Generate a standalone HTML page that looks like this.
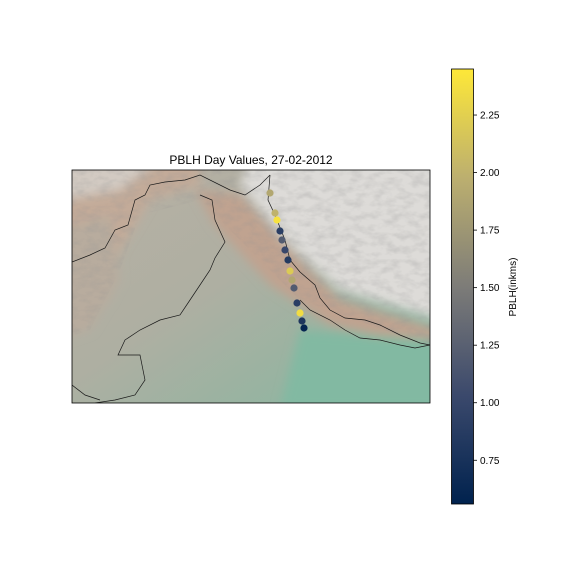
<!DOCTYPE html>
<html><head><meta charset="utf-8"><style>
html,body{margin:0;padding:0;background:#fff;}
svg text{font-family:"Liberation Sans","DejaVu Sans",sans-serif;}
</style></head><body>
<svg id="chart" width="576" height="576" viewBox="0 0 576 576">
<defs>
  <linearGradient id="cmap" x1="0" y1="1" x2="0" y2="0">
    <stop offset="0" stop-color="#00224e"/>
    <stop offset="0.25" stop-color="#3b496c"/>
    <stop offset="0.5" stop-color="#7d7c78"/>
    <stop offset="0.75" stop-color="#bcaf6f"/>
    <stop offset="1" stop-color="#fee838"/>
  </linearGradient>
  <linearGradient id="plain" x1="0" y1="0" x2="1" y2="1">
    <stop offset="0" stop-color="#b8b0a4"/>
    <stop offset="0.45" stop-color="#aeafa2"/>
    <stop offset="1" stop-color="#84b7a0"/>
  </linearGradient>
  <filter id="blur"><feGaussianBlur stdDeviation="5"/></filter>
  <filter id="tex" x="0" y="0" width="1" height="1">
    <feTurbulence type="fractalNoise" baseFrequency="0.08 0.15" numOctaves="3" seed="3"/>
    <feColorMatrix type="matrix" values="0 0 0 0 0.3  0 0 0 0 0.3  0 0 0 0 0.3  0 0 0 0.9 -0.35"/>
  </filter>
  <clipPath id="mapclip"><rect x="72" y="170" width="358" height="233"/></clipPath>
  <clipPath id="mtnclip"><polygon points="60,160 440,160 440,350 300,300 230,230 200,200 140,215 120,270 90,330 60,340"/></clipPath>
</defs>
<text x="251" y="164" text-anchor="middle" font-size="12" fill="#000">PBLH Day Values, 27-02-2012</text>
<g clip-path="url(#mapclip)">
  <rect x="72" y="170" width="358" height="233" fill="url(#plain)"/>
  <g filter="url(#blur)">
    <polygon points="60,160 200,160 200,185 150,200 120,250 110,300 60,320" fill="#c3ab99"/>
    <polygon points="60,230 110,215 120,280 90,330 60,340" fill="#b8ac9e"/>
    <polygon points="195,190 240,195 290,250 340,300 440,330 440,350 330,325 270,285 215,225" fill="#c0a390"/>
    <polygon points="250,160 440,160 440,320 340,290 290,245 240,185" fill="#dddbd8"/>
    <polygon points="60,160 160,160 120,190 60,200" fill="#d2cac2"/>
    <polygon points="300,330 440,340 440,410 280,410" fill="#82b9a2"/>
  </g>
  <rect x="60" y="160" width="390" height="250" filter="url(#tex)" clip-path="url(#mtnclip)" opacity="0.6"/>
  <g fill="none" stroke="#1a1a1a" stroke-width="0.7">
    <polyline points="72,262 90,255 105,248 115,230 128,225 135,200 145,195 150,185 165,182 185,180 200,175 230,190 245,195 260,185 270,175"/>
    <polyline points="200,195 212,200 215,220 225,242 215,258 210,270 200,285 190,300 180,315 160,320 140,330 125,340 118,355 140,355 145,380 135,395 115,400 95,403"/>
    <polyline points="270,175 268,200 275,215 285,240 290,260 300,272 315,285 320,298 330,310 345,318 365,320 380,325 400,335 420,343 430,345"/>
    <polyline points="300,300 310,310 330,320 345,330 360,338 380,340 400,345 415,348 430,345"/>
    <polyline points="72,385 85,395 100,400"/>
  </g>
</g>
<rect x="72" y="170" width="358" height="233" fill="none" stroke="#000" stroke-width="0.8"/>
<g id="points"></g>
<rect x="451.5" y="69" width="22" height="435" fill="url(#cmap)" stroke="#000" stroke-width="0.8"/>
<g id="cbticks"></g>
<text transform="translate(516,287) rotate(-90)" text-anchor="middle" font-size="10" fill="#000">PBLH(inkms)</text>
</svg>
<script>
const pointX = [270, 275, 277, 280, 282, 285, 288, 290, 292, 294, 297, 300, 302, 304];
const pointY = [193, 213, 220, 231, 240, 250, 260, 271, 280, 288, 303, 313, 321, 328];
const pblhValues = [1.9, 2.0, 2.4, 0.9, 1.2, 1.0, 0.85, 2.2, 1.9, 1.2, 0.9, 2.35, 0.8, 0.6];
const tickValues = [0.75, 1.00, 1.25, 1.50, 1.75, 2.00, 2.25];
const tickLabels = ["0.75", "1.00", "1.25", "1.50", "1.75", "2.00", "2.25"];
const vmin = 0.56, vmax = 2.45;

const stops = [[0,[0,34,78]],[0.25,[59,73,108]],[0.5,[125,124,120]],[0.75,[188,175,111]],[1,[254,232,56]]];
function cmap(v){
  let t = Math.max(0, Math.min(1, (v - vmin) / (vmax - vmin)));
  for (let i = 1; i < stops.length; i++) {
    if (t <= stops[i][0]) {
      const a = stops[i-1], b = stops[i], f = (t - a[0]) / (b[0] - a[0]);
      const c = a[1].map((x, k) => Math.round(x + (b[1][k] - x) * f));
      return `rgb(${c[0]},${c[1]},${c[2]})`;
    }
  }
  return 'rgb(254,232,56)';
}
function cbY(v){ return 504 - (v - vmin) / (vmax - vmin) * 435; }
const NS = 'http://www.w3.org/2000/svg';
const pg = document.getElementById('points');
for (let i = 0; i < pblhValues.length; i++) {
  const c = document.createElementNS(NS, 'circle');
  c.setAttribute('cx', pointX[i]);
  c.setAttribute('cy', pointY[i]);
  c.setAttribute('r', 3.6);
  c.setAttribute('fill', cmap(pblhValues[i]));
  
  
  pg.appendChild(c);
}
const tg = document.getElementById('cbticks');
for (let i = 0; i < tickValues.length; i++) {
  const y = cbY(tickValues[i]);
  const l = document.createElementNS(NS, 'line');
  l.setAttribute('x1', 473.5); l.setAttribute('x2', 477);
  l.setAttribute('y1', y); l.setAttribute('y2', y);
  l.setAttribute('stroke', '#000'); l.setAttribute('stroke-width', 0.8);
  
  
  tg.appendChild(l);
  const t = document.createElementNS(NS, 'text');
  t.setAttribute('x', 480); t.setAttribute('y', y + 3.5);
  t.setAttribute('font-size', 10);
  t.textContent = tickLabels[i];
  
  
  tg.appendChild(t);
}
</script>
</body></html>
